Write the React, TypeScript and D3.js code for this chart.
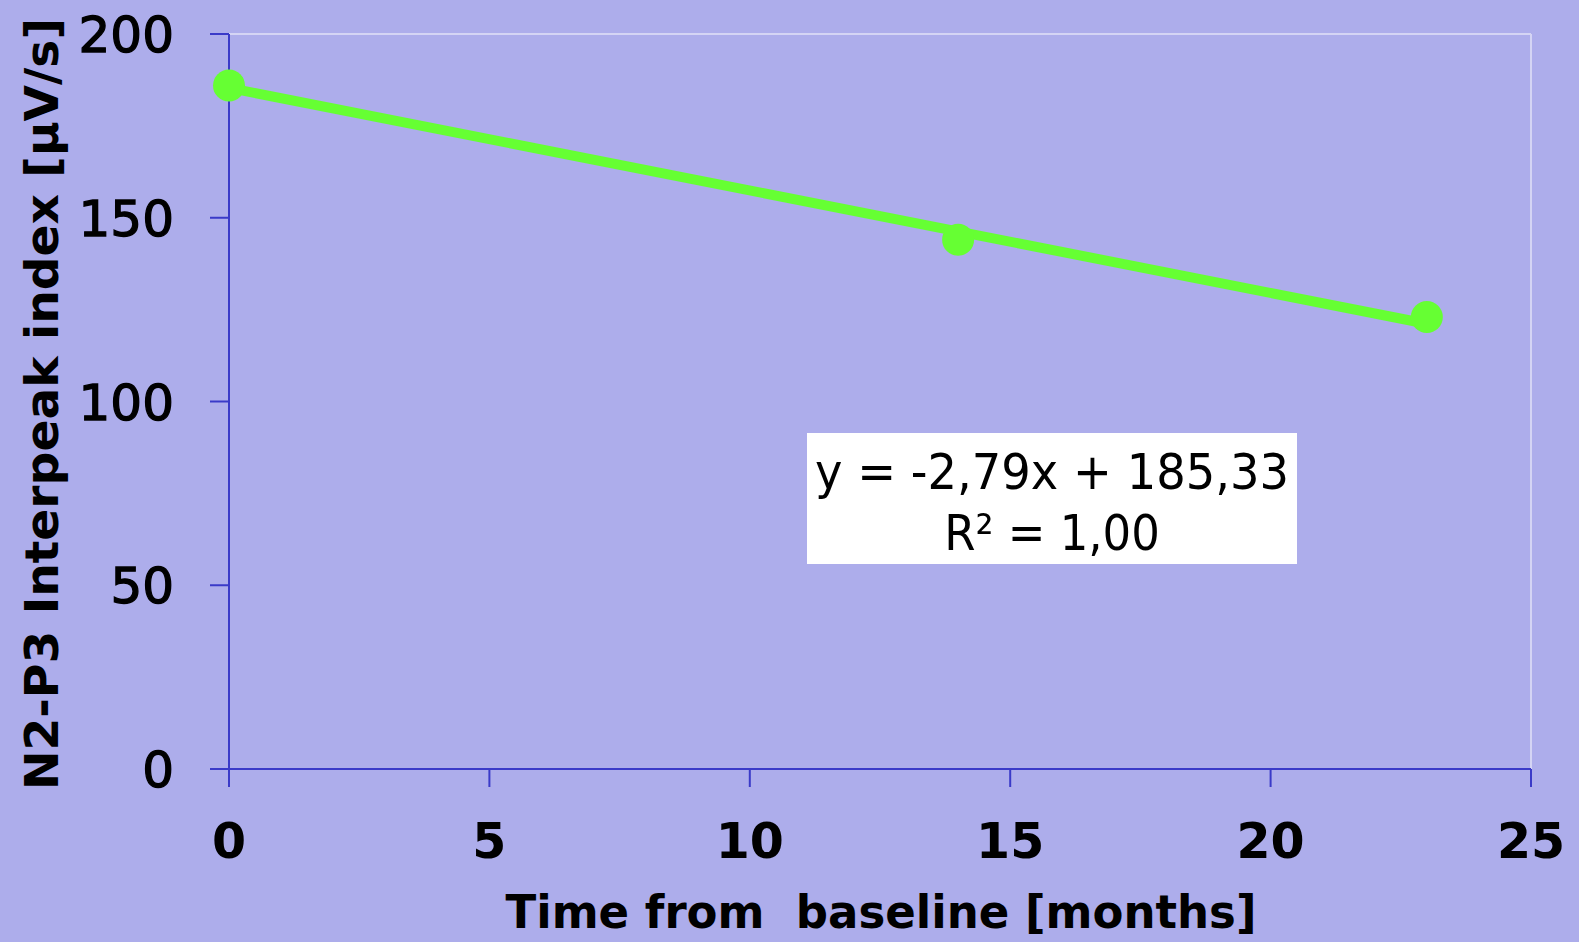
import React from "react";
import * as d3 from "d3";

const months = [0, 14, 23];
const values = [186, 144, 123];
const xTicks = [0, 5, 10, 15, 20, 25];
const yTicks = [0, 50, 100, 150, 200];
const slope = -2.79;
const intercept = 185.33;
const eqLine1 = "y = -2,79x + 185,33";
const eqLine2 = "R² = 1,00";
const xTitle = "Time from  baseline [months]";
const yTitle = "N2-P3 Interpeak index [µV/s]";

export default function App() {
  const W = 1579, H = 942;
  const x = d3.scaleLinear().domain([0, 25]).range([229, 1531]);
  const y = d3.scaleLinear().domain([0, 200]).range([769, 34]);
  const axisColor = "#3a3ac8";
  const green = "#66ff33";
  const fit = d3.line<number>().x(d => x(d)).y(d => y(slope * d + intercept));
  const fitX = [d3.min(months)!, d3.max(months)!];
  return (
    <svg width={W} height={H} style={{ position: "absolute", left: 0, top: 0 }}>
      <rect x={0} y={0} width={W} height={H} fill="#adadeb" />
      {/* plot border top/right */}
      <line x1={x(0)} x2={x(25)} y1={y(200)} y2={y(200)} stroke="#d4d4f4" strokeWidth={2} />
      <line x1={x(25)} x2={x(25)} y1={y(200)} y2={y(0)} stroke="#d4d4f4" strokeWidth={2} />
      {/* axes */}
      <line x1={x(0)} x2={x(25)} y1={y(0)} y2={y(0)} stroke={axisColor} strokeWidth={2} />
      <line x1={x(0)} x2={x(0)} y1={y(200)} y2={y(0)} stroke={axisColor} strokeWidth={2} />
      {yTicks.map(t => (
        <g key={"y" + t}>
          <line x1={x(0) - 19} x2={x(0)} y1={y(t)} y2={y(t)} stroke={axisColor} strokeWidth={2} />
          <text x={174} y={y(t)} dy="0.36em" textAnchor="end" fontFamily="DejaVu Sans" fontSize={50} stroke="#000" strokeWidth={1.3} fill="#000">{t}</text>
        </g>
      ))}
      {xTicks.map(t => (
        <g key={"x" + t}>
          <line x1={x(t)} x2={x(t)} y1={y(0)} y2={y(0) + 18} stroke={axisColor} strokeWidth={2} />
          <text x={x(t)} y={858} textAnchor="middle" fontFamily="DejaVu Sans" fontWeight="bold" fontSize={49} fill="#000">{t}</text>
        </g>
      ))}
      <text x={881} y={928} textAnchor="middle" fontFamily="DejaVu Sans" fontWeight="bold" fontSize={46} textLength={751} lengthAdjust="spacingAndGlyphs" fill="#000" style={{ whiteSpace: "pre" }}>{xTitle}</text>
      <text transform={`translate(58,${404}) rotate(-90)`} textAnchor="middle" fontFamily="DejaVu Sans" fontWeight="bold" fontSize={46} textLength={772} lengthAdjust="spacingAndGlyphs" fill="#000">{yTitle}</text>
      {/* trend line */}
      <path d={fit(fitX) || ""} fill="none" stroke={green} strokeWidth={10} />
      {months.map((m, i) => (
        <circle key={"p" + i} cx={x(m)} cy={y(values[i])} r={16} fill={green} />
      ))}
      {/* equation box */}
      <rect x={807} y={433} width={490} height={131} fill="#ffffff" />
      <text x={1052} y={489} textAnchor="middle" fontFamily="DejaVu Sans Condensed" fontSize={50} textLength={474} lengthAdjust="spacingAndGlyphs" fill="#000">{eqLine1}</text>
      <text x={1052} y={550} textAnchor="middle" fontFamily="DejaVu Sans Condensed" fontSize={50} fill="#000">{eqLine2}</text>
    </svg>
  );
}
